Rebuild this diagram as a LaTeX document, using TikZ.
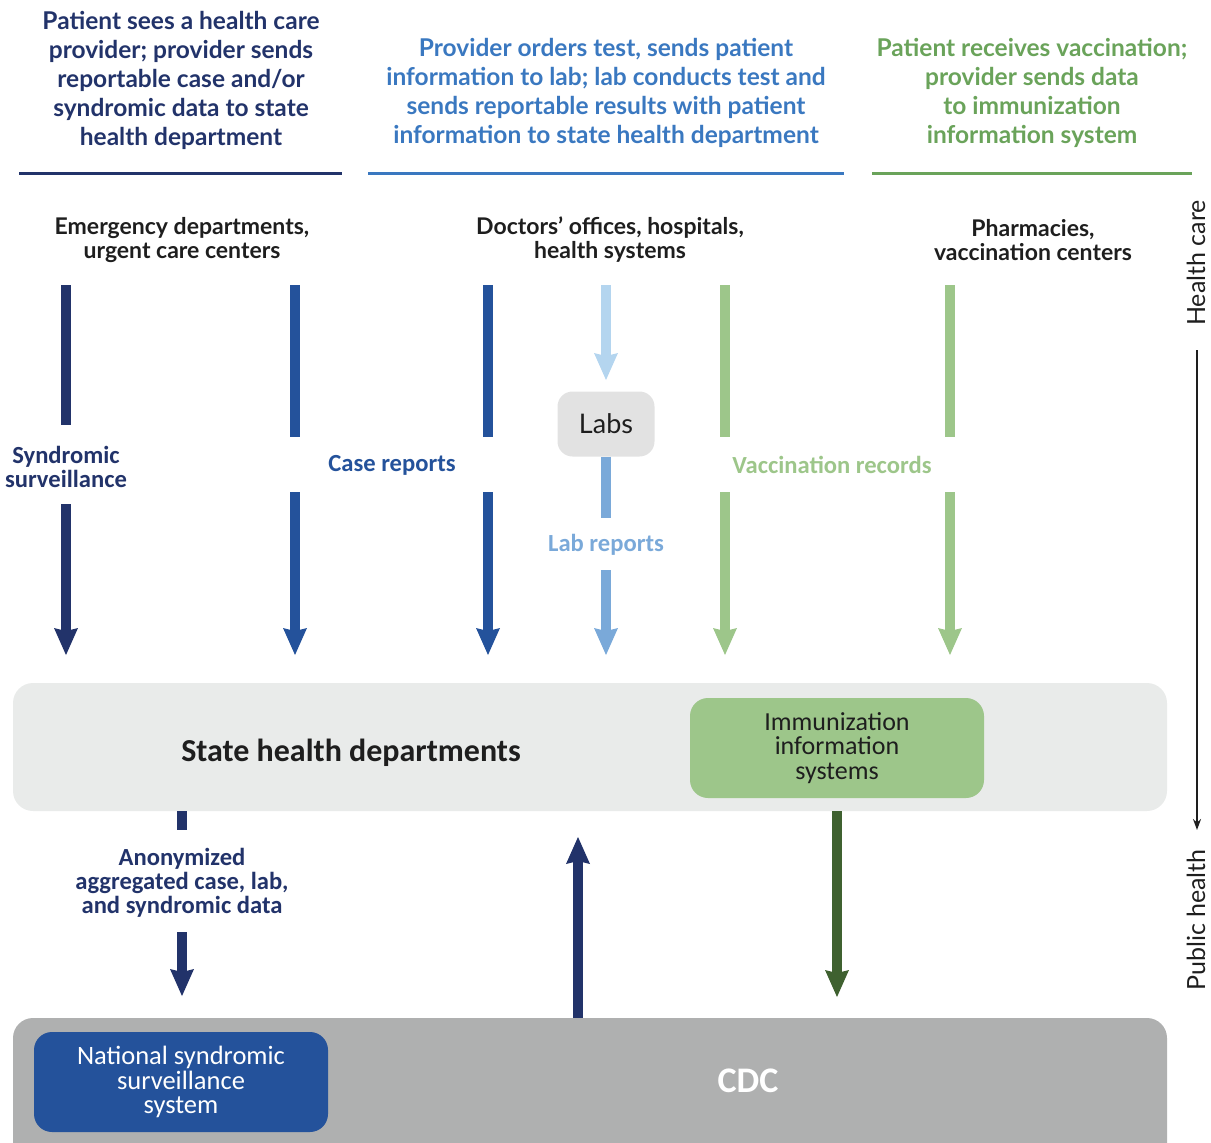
\documentclass[tikz,border=0pt]{standalone}
\usepackage{fontspec}
\setmainfont{Lato}
\newfontfamily\condf{Carlito}
\usetikzlibrary{arrows.meta}
\definecolor{navy}{HTML}{22336A}
\definecolor{blueA}{HTML}{24529B}
\definecolor{blueHead}{HTML}{3A78C0}
\definecolor{lightblue}{HTML}{B4D5EF}
\definecolor{midblue}{HTML}{7AA9D9}
\definecolor{greenA}{HTML}{9DC68A}
\definecolor{greenText}{HTML}{6AA35A}
\definecolor{darkgreen}{HTML}{3F6130}
\definecolor{stategray}{HTML}{E9EBEA}
\definecolor{cdcgray}{HTML}{AFB0B0}
\definecolor{labgray}{HTML}{E2E2E2}
\definecolor{inkblack}{HTML}{1E1E1E}
\tikzset{
  header/.style={align=center, inner sep=0pt, font=\fontsize{24.5}{29}\selectfont\bfseries},
  sublabel/.style={align=center, inner sep=0pt, text=inkblack, font=\fontsize{23}{24}\selectfont\bfseries},
  flowlabel/.style={align=center, inner sep=0pt, font=\condf\fontsize{24.6}{24}\selectfont\bfseries},
  shaft/.style={line width=10pt},
  flow/.style={line width=10pt, -{Stealth[length=27pt,width=24pt,inset=3pt,line width=0pt]}},
  rule/.style={line width=3pt},
  panel/.style={rounded corners=20pt, inner sep=0pt},
  sidetext/.style={rotate=90, inner sep=0pt, font=\fontsize{25}{25}\selectfont, text=inkblack},
}
\begin{document}
\begin{tikzpicture}[x=1pt,y=-1pt]
\useasboundingbox (0,0) rectangle (1211,1143);

% headers
\node[header, text=navy] (h1) at (181,80) {Patient sees a health care\\provider; provider sends\\reportable case and/or\\syndromic data to state\\health department};
\node[header, text=blueHead] (h2) at (606,93) {Provider orders test, sends patient\\information to lab; lab conducts test and\\sends reportable results with patient\\information to state health department};
\node[header, text=greenText] (h3) at (1032,93) {Patient receives vaccination;\\provider sends data\\to immunization\\information system};
\draw[rule, navy] (19,173) -- (342,173);
\draw[rule, blueHead] (368,173) -- (844,173);
\draw[rule, greenText] (872,173) -- (1192,173);

% sources
\node[sublabel] (ed) at (182,240) {Emergency departments,\\urgent care centers};
\node[sublabel] (doc) at (610,240) {Doctors' offices, hospitals,\\health systems};
\node[sublabel] (ph) at (1033,240) {Pharmacies,\\vaccination centers};

% side axis
\node[sidetext] (hc) at (1196,263) {Health care};
\node[sidetext] (pub) at (1196,920) {Public health};
\coordinate (axA) at (1197,350);
\coordinate (axB) at (1197,830);
\draw[line width=1.8pt, inkblack, -{Stealth[length=11pt,width=8pt]}] (axA) -- (axB);

% boxes
\node[panel, fill=stategray, minimum width=1154pt, minimum height=128pt] (state) at (590,747) {};
\node[inner sep=0pt, text=inkblack, font=\condf\fontsize{32}{34}\selectfont\bfseries] (statet) at (351,753) {State health departments};
\node[panel, rounded corners=18pt, fill=greenA, minimum width=294pt, minimum height=100pt, align=center, text=inkblack, font=\condf\fontsize{26}{24.5}\selectfont] (iis) at (837,748) {Immunization\\information\\systems};
\node[panel, fill=cdcgray, minimum width=1154pt, minimum height=150pt] (cdc) at (590,1093) {};
\node[inner sep=0pt, text=white, font=\condf\fontsize{36}{36}\selectfont\bfseries] (cdct) at (748,1081) {CDC};
\node[panel, rounded corners=18pt, fill=blueA, minimum width=294pt, minimum height=100pt, align=center, text=white, font=\condf\fontsize{26.5}{24.5}\selectfont] (nss) at (181,1082) {National syndromic\\surveillance\\system};
\node[panel, rounded corners=15pt, fill=labgray, minimum width=97pt, minimum height=65pt, text=inkblack, font=\fontsize{27}{27}\selectfont] (labs) at (606,424) {Labs};

% flow labels
\node[flowlabel, text=navy] (synd) at (66,467) {Syndromic\\surveillance};
\node[flowlabel, text=blueA] (case) at (392,465) {Case reports};
\node[flowlabel, text=midblue] (labr) at (606,545) {Lab reports};
\node[flowlabel, text=greenA] (vacc) at (832,465) {Vaccination records};
\node[flowlabel, text=navy] (anon) at (182,883) {Anonymized\\aggregated case, lab,\\and syndromic data};

% coordinates
\foreach \n/\x in {a/66,b/295,c/488,d/606,e/725,f/950}{
  \coordinate (top\n) at (\x,285);
  \coordinate (tip\n) at (\x,655);
}
\coordinate (aGapTop) at (66,425);  \coordinate (aGapBot) at (66,504);
\foreach \n/\x in {b/295,c/488,e/725,f/950}{
  \coordinate (gt\n) at (\x,437);
  \coordinate (gb\n) at (\x,492);
}
\coordinate (labIn) at (606,380);
\coordinate (labOut) at (606,518);
\coordinate (labResume) at (606,570);

% syndromic
\draw[shaft, navy] (topa) -- (aGapTop);
\draw[flow, navy] (aGapBot) -- (tipa);
% case reports
\draw[shaft, blueA] (topb) -- (gtb);
\draw[flow, blueA] (gbb) -- (tipb);
\draw[shaft, blueA] (topc) -- (gtc);
\draw[flow, blueA] (gbc) -- (tipc);
% labs
\draw[flow, lightblue] (topd) -- (labIn);
\draw[shaft, midblue] (labs.south) -- (labOut);
\draw[flow, midblue] (labResume) -- (tipd);
% vaccination
\draw[shaft, greenA] (tope) -- (gte);
\draw[flow, greenA] (gbe) -- (tipe);
\draw[shaft, greenA] (topf) -- (gtf);
\draw[flow, greenA] (gbf) -- (tipf);

% lower flows
\coordinate (anonA) at (182,830);
\coordinate (anonB) at (182,932);
\coordinate (anonTip) at (182,996);
\draw[shaft, navy] (state.south -| anonA) -- (anonA);
\draw[flow, navy] (anonB) -- (anonTip);
\coordinate (upTip) at (578,837);
\draw[flow, navy] (cdc.north -| upTip) -- (upTip);
\coordinate (iisTip) at (837,997);
\draw[flow, darkgreen] (state.south -| iis.south) -- (iisTip);
\end{tikzpicture}
\end{document}
